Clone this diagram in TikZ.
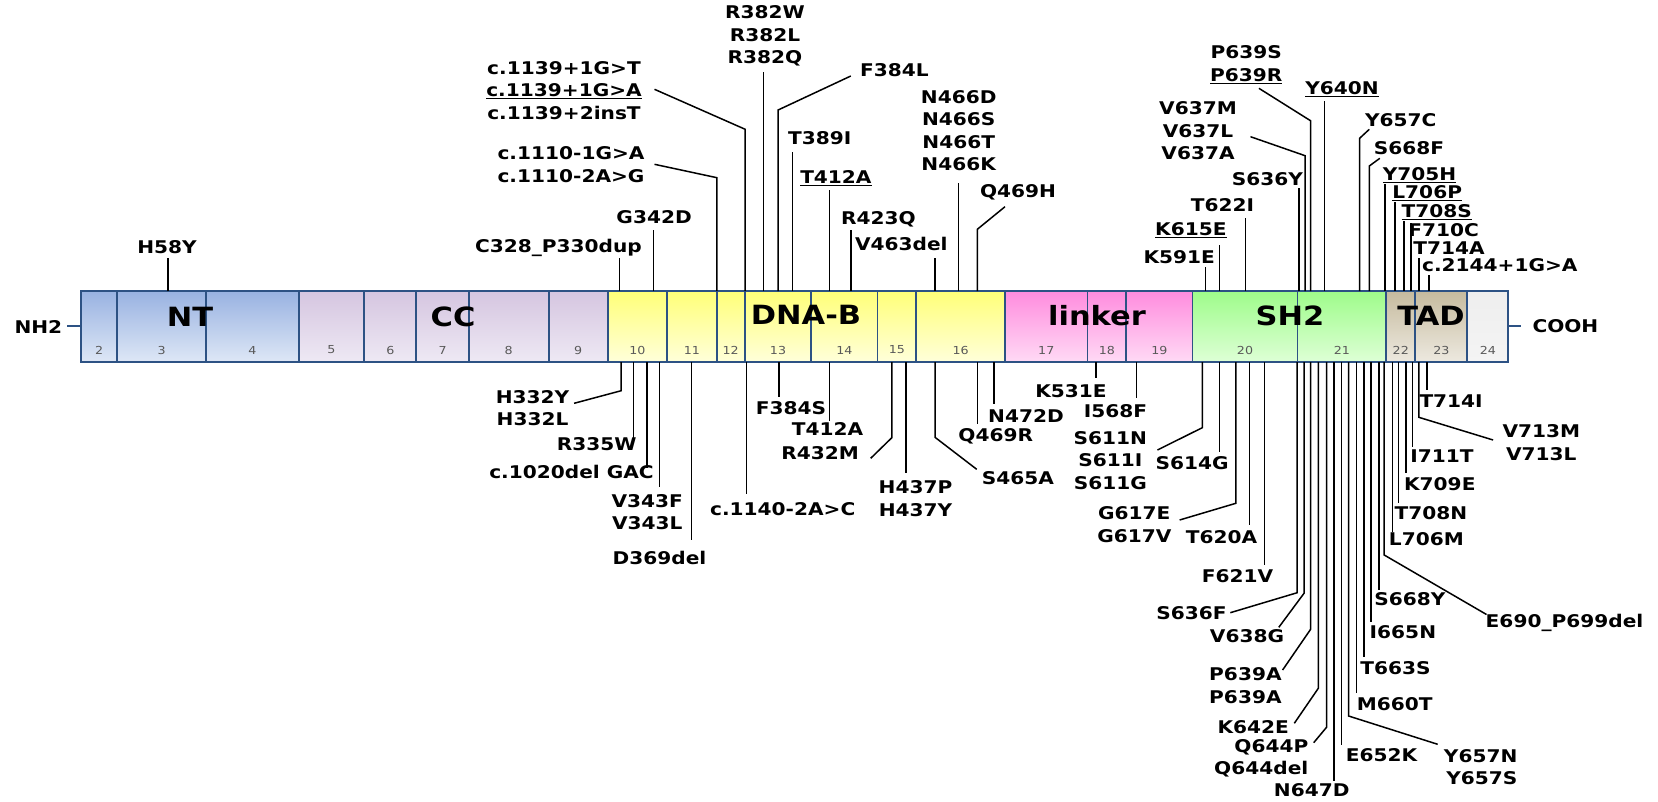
\documentclass[tikz,border=0pt]{standalone}
\usepackage{fontspec}
\newfontfamily\lblfont{DejaVu Sans}[FakeStretch=1.15]
\newcommand\mutfont{\lblfont\bfseries\fontsize{17.5}{22.5}\selectfont}
\newcommand\domfont{\lblfont\bfseries\fontsize{26.5}{30}\selectfont}
\newcommand\exfont{\lblfont\fontsize{11}{13}\selectfont}
\definecolor{barblue}{RGB}{45,82,132}
\definecolor{ntA}{RGB}{152,178,225}\definecolor{ntB}{RGB}{222,231,246}
\definecolor{ccA}{RGB}{213,197,224}\definecolor{ccB}{RGB}{238,233,244}
\definecolor{dbA}{RGB}{255,255,120}\definecolor{dbB}{RGB}{255,255,218}
\definecolor{lkA}{RGB}{255,140,222}\definecolor{lkB}{RGB}{255,218,245}
\definecolor{shA}{RGB}{158,252,138}\definecolor{shB}{RGB}{222,255,214}
\definecolor{tdA}{RGB}{198,187,158}\definecolor{tdB}{RGB}{237,233,224}
\definecolor{exA}{RGB}{238,238,238}\definecolor{exB}{RGB}{244,244,244}

\begin{document}
\begin{tikzpicture}[x=1pt,y=-1pt,
		exon/.style={draw=barblue,line width=1.9pt},
		exnum/.style={font=\exfont,text=black!65,inner sep=0pt},
		dom/.style={font=\domfont,inner sep=0pt},
		mut/.style={font=\mutfont,inner sep=0pt,align=center},
		lead/.style={line width=1.5pt},
		tick/.style={draw=barblue,line width=1.5pt}
		]
		\useasboundingbox (0,0) rectangle (1658,801);
		
		\foreach \a/\b/\n/\c in {81.4/117.1/2/nt,117.1/206.4/3/nt,206.4/298.6/4/nt,
			298.6/364.3/5/cc,364.3/416.4/6/cc,416.4/468.9/7/cc,468.9/548.6/8/cc,548.6/607.9/9/cc,
			607.9/666.8/10/db,666.8/716.8/11/db,716.8/744.6/12/db,744.6/811.4/13/db,
			811.4/877.5/14/db,877.5/916.1/15/db,916.1/1005/16/db,
			1005/1087.5/17/lk,1087.5/1126.2/18/lk,1126.2/1192.5/19/lk,
			1192.5/1297.5/20/sh,1297.5/1386.3/21/sh,
			1386.3/1415.2/22/td,1415.2/1467.4/23/td,1467.4/1508.3/24/ex} {
			\draw[exon,top color=\c A,bottom color=\c B] (\a,291) rectangle (\b,362);
			\node[exnum] (x\n) at ({(\a+\b)/2},350) {\n};
		}
		
		\node[dom] (NT) at (190,316.7) {NT};
		\node[dom] (CC) at (453,316.7) {CC};
		\node[dom] (DNAB) at (806,315) {DNA-B};
		\node[dom] (linker) at (1097,316) {linker};
		\node[dom] (SH2) at (1290,316) {SH2};
		\node[dom] (TAD) at (1431,316) {TAD};
		
		\coordinate (barL) at (81.4,326);
		\coordinate (barR) at (1508.3,326);
		\node[mut] (NH2) at (38.4,327) {NH2};
		\node[mut] (COOH) at (1565.4,326) {COOH};
		\draw[tick] (barL) -- ([xshift=5pt]NH2.east |- barL);
		\draw[tick] (barR) -- ([xshift=-11pt]COOH.west |- barR);
		
		\foreach \x/\e/\lx/\ly/\t [count=\i] in {
			168/258.3/167/246.7/H58Y,
			619.3/257.7/558.4/247.7/C328\_P330dup,
			653.3/230/654.1/217.3/G342D,
			763.6/71.7/765/35.8/{R382W\\R382L\\R382Q},
			792.6/151.7/819.8/137.7/T389I,
			829.4/190/835.9/178.3/{\underline{T412A}},
			850.8/230/878.4/219.3/R423Q,
			935/257.7/901.3/244.3/V463del,
			958.7/182.7/958.7/130.8/{N466D\\N466S\\N466T\\N466K},
			1205.6/266.7/1179.2/256.7/K591E,
			1219.5/245/1190.9/230/{\underline{K615E}},
			1245.5/218.3/1222.4/205/T622I,
			1298.8/188.3/1267.3/179.3/S636Y,
			1324.4/101/1342/89/{\underline{Y640N}},
			1384.8/184/1419.6/175/{\underline{Y705H}},
			1394.9/202.3/1427.2/193.3/{\underline{L706P}},
			1404.1/220.7/1436.8/211.7/{\underline{T708S}},
			1411.2/223/1443.6/230/F710C,
			1418.8/258/1449/248.3/T714A,
			1428.9/275/1499.8/265/c.2144+1G>A} {
			\node[mut] (top\i) at (\lx,\ly) {\t};
			\coordinate (ts\i) at (\x,291);
			\coordinate (te\i) at (\x,\e);
			\draw[lead] (ts\i) -- (te\i);
		}
		
		\foreach \x/\k/\ex/\ey/\lx/\ly/\t [count=\i] in {
			745.2/129.3/654.5/89.3/564/90.2/{c.1139+1G>T\\\underline{c.1139+1G>A}\\c.1139+2insT},
			716.9/177.7/654.5/164.3/571/164.5/{c.1110-1G>A\\c.1110-2A>G},
			778.1/110/850.8/76/894.5/70/F384L,
			977.3/229.3/1005/206.7/1018/192.3/Q469H,
			1310.5/120.7/1258.9/88.3/1246.3/64.5/{P639S\\\underline{P639R}},
			1305.1/155.7/1250.5/136.7/1198/130.8/{V637M\\V637L\\V637A},
			1359.6/138.3/1369.3/129.3/1400.8/120/Y657C,
			1369.3/166/1379.8/158.3/1409.1/148.3/S668F} {
			\node[mut] (tb\i) at (\lx,\ly) {\t};
			\coordinate (tbs\i) at (\x,291);
			\coordinate (tbk\i) at (\x,\k);
			\coordinate (tbe\i) at (\ex,\ey);
			\draw[lead] (tbs\i) -- (tbk\i) -- (tbe\i);
		}
		
		\foreach \x/\e/\lx/\ly/\t [count=\i] in {
			633.4/439.3/596.7/444.3/R335W,
			646.8/468.3/571.5/472.3/{c.1020del GAC},
			659.5/486.7/647.2/512.2/{V343F\\V343L},
			691.6/540/659.5/558.3/D369del,
			746.3/494/782.7/509/c.1140-2A>C,
			778.9/396.7/791.1/408.3/F384S,
			829.4/421/827.5/429.3/T412A,
			905.9/473.3/915.5/498.4/{H437P\\H437Y},
			977.3/424.3/995.7/436/Q469R,
			994/404/1026/416/N472D,
			1096/378.3/1071/390.7/K531E,
			1136.4/398.3/1115.4/410.7/I568F,
			1219.5/451.7/1192.2/463.3/S614G,
			1249.7/525/1221.6/537.3/T620A,
			1264.4/565/1237.5/576/F621V,
			1334.2/780.7/1311.7/790/N647D,
			1341.6/745/1381.5/755/E652K,
			1356.3/693.3/1394.7/704.3/M660T,
			1364.1/656.7/1395.5/668.3/T663S,
			1371/622/1402.9/631.7/I665N,
			1378.8/590/1409.8/599.3/S668Y,
			1392.4/531.7/1426.4/539.3/L706M,
			1398.7/503.3/1431/512.7/T708N,
			1405.8/473.3/1439.8/484/K709E,
			1412.5/446.7/1441.9/456/I711T,
			1426.8/390/1451.1/401/T714I} {
			\node[mut] (bot\i) at (\lx,\ly) {\t};
			\coordinate (bs\i) at (\x,362);
			\coordinate (be\i) at (\x,\e);
			\draw[lead] (bs\i) -- (be\i);
		}
		
		\foreach \x/\k/\ex/\ey/\lx/\ly/\t [count=\i] in {
			621.2/390.7/574.1/403.3/532.5/407.9/{H332Y\\H332L},
			891.8/437.7/870.7/458.3/820.2/453.3/R432M,
			935/437.3/976.7/469.3/1018/477.7/S465A,
			1202.3/427.7/1157.4/450/1110.4/460.2/{S611N\\S611I\\S611G},
			1235.8/503.3/1179.6/520/1134.3/524.4/{G617E\\G617V},
			1297.2/592.7/1230.3/612.7/1191.5/613.3/S636F,
			1304/593.3/1278.8/627.3/1247/636/V638G,
			1310.6/629.3/1282.6/670/1245.4/685.5/{P639A\\P639A},
			1318.3/688.3/1294.3/723.3/1253.2/726.7/K642E,
			1384.2/555/1486.5/614.5/1564.5/622.7/E690\_P699del,
			1418.8/417.3/1493.1/440/1541.3/442.5/{V713M\\V713L}} {
			\node[mut] (bb\i) at (\lx,\ly) {\t};
			\coordinate (bbs\i) at (\x,362);
			\coordinate (bbk\i) at (\x,\k);
			\coordinate (bbe\i) at (\ex,\ey);
			\draw[lead] (bbs\i) -- (bbk\i) -- (bbe\i);
		}
		
		\node[mut,anchor=east,align=right] (Q644) at (1308.5,758.3) {Q644P\\Q644del};
		\coordinate (q1) at (1326.5,362);
		\coordinate (q2) at (1326.5,727.3);
		\coordinate (q3) at (1313.7,742.7);
		\draw[lead] (q1) -- (q2) -- (q3);
		
		\node[mut,anchor=east,align=right] (Y657) at (1517.6,767) {Y657N\\Y657S};
		\coordinate (y1) at (1348.6,362);
		\coordinate (y2) at (1348.6,716);
		\coordinate (y3) at (1437.7,744.3);
		\draw[lead] (y1) -- (y2) -- (y3);
		
\end{tikzpicture}
\end{document}
